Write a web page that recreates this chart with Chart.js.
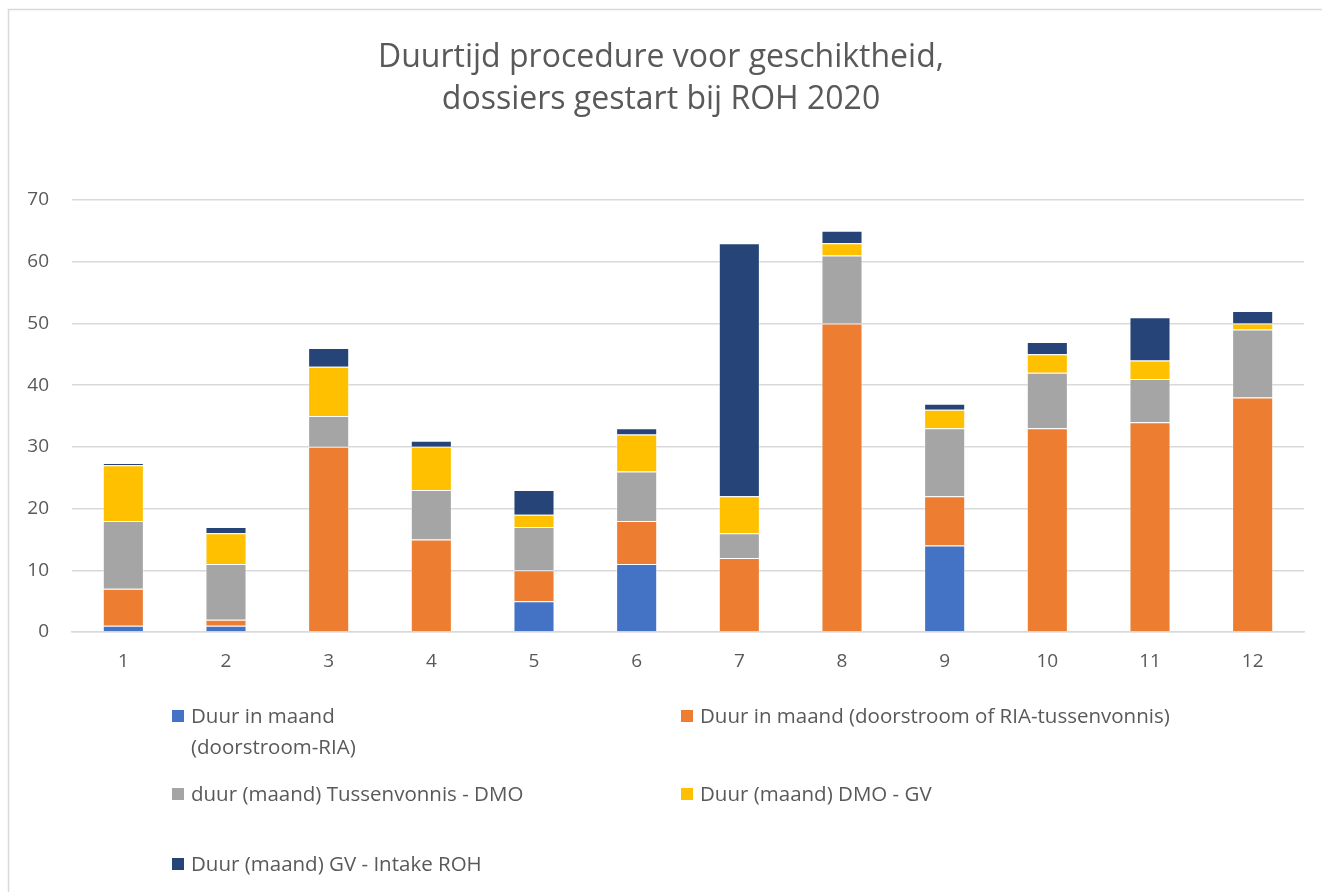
<!DOCTYPE html>
<html>
<head>
<meta charset="utf-8">
<script src="https://cdn.jsdelivr.net/npm/chart.js@4/dist/chart.umd.min.js"></script>
<style>
  html, body { margin: 0; padding: 0; background: #fff; }
  #wrap { width: 1322px; height: 892px; position: relative; }
</style>
</head>
<body>
<div id="wrap"><canvas id="c" width="1322" height="892"></canvas></div>
<script>
// ---- data ----
const categories = ['1','2','3','4','5','6','7','8','9','10','11','12'];
const seriesLabels = [
  'Duur in maand (doorstroom-RIA)',
  'Duur in maand (doorstroom of RIA-tussenvonnis)',
  'duur (maand) Tussenvonnis - DMO',
  'Duur (maand) DMO - GV',
  'Duur (maand) GV - Intake ROH'
];
const doorstroomRIA      = [1, 1, 0, 0, 5, 11, 0, 0, 14, 0, 0, 0];
const doorstroomTussen   = [6, 1, 30, 15, 5, 7, 12, 50, 8, 33, 34, 38];
const tussenvonnisDMO    = [11, 9, 5, 8, 7, 8, 4, 11, 11, 9, 7, 11];
const dmoGV              = [9, 5, 8, 7, 2, 6, 6, 2, 3, 3, 3, 1];
const gvIntake           = [0.4, 1, 3, 1, 4, 1, 41, 2, 1, 2, 7, 2];
const yTicks = [0, 10, 20, 30, 40, 50, 60, 70];
const titleLines = ['Duurtijd procedure voor geschiktheid,', 'dossiers gestart bij ROH 2020'];
const colors = ['#4472C4', '#ED7D31', '#A5A5A5', '#FFC000', '#264478'];

const FONT = '"Open Sans", "Liberation Sans", sans-serif';
const TXT = '#595959';

const seriesValues = [doorstroomRIA, doorstroomTussen, tussenvonnisDMO, dmoGV, gvIntake];

const frameAndText = {
  id: 'frameAndText',
  beforeDraw(chart) {
    const ctx = chart.ctx;
    ctx.save();
    ctx.fillStyle = '#fff';
    ctx.fillRect(0, 0, chart.width, chart.height);
    ctx.strokeStyle = '#d9d9d9';
    ctx.lineWidth = 1.5;
    ctx.beginPath();
    ctx.moveTo(8.5, 892);
    ctx.lineTo(8.5, 9.5);
    ctx.lineTo(1322, 9.5);
    ctx.stroke();
    ctx.restore();
  },
  afterDraw(chart) {
    const ctx = chart.ctx;
    ctx.save();
    // title
    ctx.fillStyle = TXT;
    ctx.font = '32px ' + FONT;
    ctx.textAlign = 'center';
    ctx.textBaseline = 'middle';
    const cx = 661;
    ctx.fillText(titleLines[0], cx, 58);
    ctx.fillText(titleLines[1], cx, 100);
    // legend
    const pos = [[172, 716], [681, 716], [172, 794], [681, 794], [172, 864]];
    ctx.font = '20.5px ' + FONT;
    ctx.textAlign = 'left';
    chart.data.datasets.forEach((ds, i) => {
      const [x, y] = pos[i];
      ctx.fillStyle = ds.backgroundColor;
      ctx.fillRect(x, y - 6, 12, 12);
      ctx.fillStyle = TXT;
      let lines = [ds.label];
      if (i === 0) {
        const k = ds.label.indexOf(' (');
        lines = [ds.label.slice(0, k), ds.label.slice(k + 1)];
      }
      lines.forEach((t, j) => ctx.fillText(t, x + 19, y + 1 + j * 31));
    });
    ctx.restore();
  }
};

new Chart(document.getElementById('c'), {
  type: 'bar',
  data: {
    labels: categories,
    datasets: seriesLabels.map((label, i) => ({
      label,
      data: seriesValues[i],
      backgroundColor: colors[i],
      borderColor: 'rgba(255,255,255,0.4)',
      borderWidth: 1,
      borderSkipped: 'start',
      categoryPercentage: 0.4,
      barPercentage: 1.0
    }))
  },
  options: {
    responsive: false,
    animation: false,
    devicePixelRatio: 1,
    layout: { padding: { left: 0, right: 18, top: 200, bottom: 210 } },
    plugins: {
      legend: { display: false },
      title: { display: false },
      tooltip: { enabled: false }
    },
    scales: {
      x: {
        stacked: true,
        grid: { display: false, drawTicks: false },
        border: { display: true, color: '#d9d9d9', width: 1.5 },
        ticks: { color: TXT, font: { family: FONT, size: 19 }, padding: 18 },
        afterFit(s) { s.height = 50; }
      },
      y: {
        stacked: true,
        min: 0,
        max: 70,
        afterBuildTicks(s) { s.ticks = yTicks.map(v => ({ value: v })); },
        grid: { color: '#d9d9d9', lineWidth: 1.5, drawTicks: false },
        border: { display: false },
        ticks: { color: TXT, font: { family: FONT, size: 19 }, padding: 23 },
        afterFit(s) { s.width = 72; }
      }
    }
  },
  plugins: [frameAndText]
});
</script>
</body>
</html>
